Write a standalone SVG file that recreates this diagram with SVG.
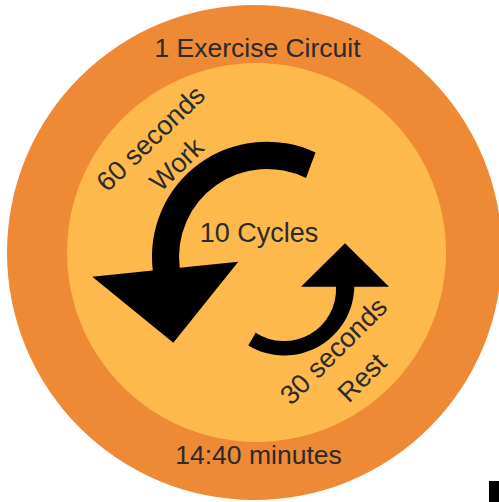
<svg xmlns="http://www.w3.org/2000/svg" width="499" height="502" viewBox="0 0 499 502">
<style>
.t{font-family:"Liberation Sans",Arial,sans-serif;fill:#2b2b2b;text-anchor:middle}
.big{font-size:26.5px}
.rot{font-size:27px}
.arrow{fill:#000}
</style>
<rect width="499" height="502" fill="#fff"/>
<g id="outer-circle">
<circle cx="254.5" cy="252.5" r="247.5" fill="#EE8936"/>
<text class="t big" x="257.5" y="56.5">1 Exercise Circuit</text>
<text class="t big" x="258.5" y="464">14:40 minutes</text>
</g>
<g id="inner-circle">
<circle cx="256.5" cy="252.5" r="189.5" fill="#FDB94B"/>
<text class="t big" x="259" y="241.7" style="font-size:27px">10 Cycles</text>
</g>
<g id="connectors">
<path id="work-arrow" class="arrow" d="M315.5,152.4 A115,115 0 0 0 152.8,270.5 L92.3,276.7 L173.3,342.7 L238.3,261.7 L179.7,267.7 A88,88 0 0 1 306,178 Z"/>
<path id="rest-arrow" class="arrow" d="M336,286.7 L301,286.7 L345,243.3 L389,286.7 L354.3,286.7 A70,70 0 0 1 248.3,345.5 L255.7,332.7 A52,52 0 0 0 336,286.7 Z"/>
</g>
<g id="work-label">
<text class="t rot" transform="translate(157,145) rotate(-44)">60 seconds</text>
<text class="t rot" transform="translate(183,171) rotate(-44)">Work</text>
</g>
<g id="rest-label">
<text class="t rot" transform="translate(340,357.5) rotate(-45)">30 seconds</text>
<text class="t rot" transform="translate(368.5,384) rotate(-45)">Rest</text>
</g>
<rect x="489" y="481" width="10" height="21" fill="#000"/>
</svg>
